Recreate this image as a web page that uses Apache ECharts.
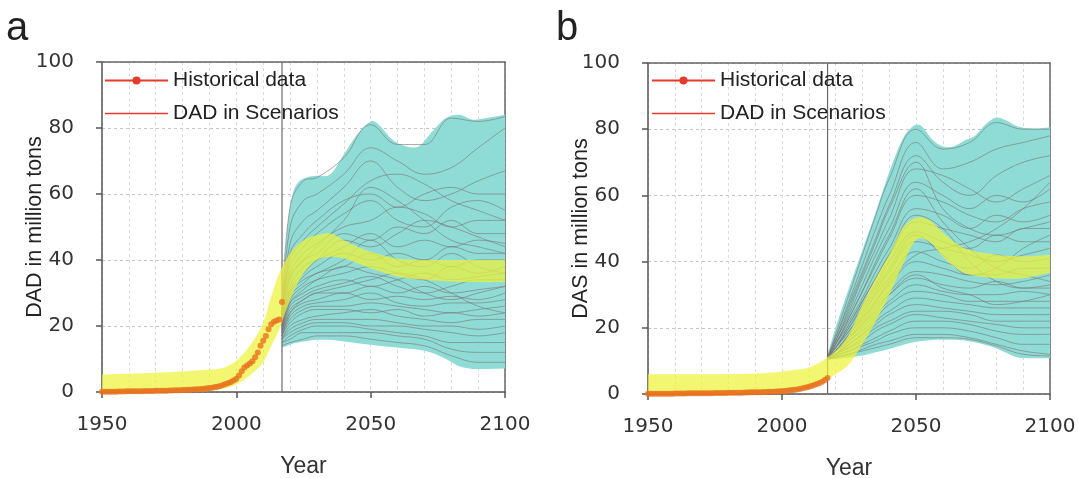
<!DOCTYPE html>
<html><head><meta charset="utf-8">
<script src="https://cdn.jsdelivr.net/npm/echarts@6/dist/echarts.min.js"></script>
<style>html,body{margin:0;padding:0;background:#fff}#c{width:1078px;height:478px}</style>
</head><body><div id="c"></div>
<script>
// ---------------- data ----------------
const histStartYear = 1950;
const projectionStartYear = 2017;

// Historical data (yearly, 1950..2017)
const histA = [0.1,0.1,0.1,0.1,0.1,0.1,0.15,0.15,0.15,0.2,
  0.2,0.2,0.2,0.25,0.25,0.25,0.3,0.3,0.3,0.3,
  0.35,0.35,0.4,0.4,0.4,0.45,0.45,0.5,0.5,0.55,
  0.6,0.6,0.65,0.7,0.75,0.8,0.85,0.9,1.0,1.1,
  1.2,1.3,1.5,1.6,1.8,2.1,2.4,2.7,3.0,3.5,
  4.0,5.0,6.3,7.4,8.0,8.6,9.3,10.5,12.0,14.0,
  15.5,17.0,19.0,20.5,21.3,21.7,22.0,27.3];
const histB = [0.1,0.1,0.1,0.1,0.1,0.1,0.1,0.1,0.1,0.1,
  0.15,0.15,0.15,0.15,0.15,0.2,0.2,0.2,0.2,0.2,
  0.2,0.25,0.25,0.25,0.25,0.3,0.3,0.3,0.3,0.3,
  0.35,0.35,0.35,0.4,0.4,0.4,0.45,0.45,0.5,0.5,
  0.5,0.55,0.55,0.6,0.6,0.65,0.7,0.7,0.75,0.8,
  0.85,0.9,1.0,1.1,1.2,1.3,1.4,1.6,1.8,2.0,
  2.2,2.4,2.7,3.0,3.3,3.7,4.2,4.8];

// Yellow band (panel a)
const yelYearsA = [1950,1960,1970,1980,1990,1995,2000,2005,2010,2013,2016,2020,2025,2030,2035,2040,2045,2050,2060,2070,2080,2090,2100];
const yelLowA   = [0,0,0,0,0.3,1,2.3,5,9,14,19,28,36,40,41,40.5,39,37.5,35,34,33.5,33.3,33.3];
const yelHighA  = [5.3,5.5,5.8,6.2,6.8,7.3,9.5,14,21,29,36,42,46,47.5,48,46,44,42.5,40.4,40,40,40,40];

// Yellow band (panel b)
const yelYearsB = [1950,1960,1970,1980,1990,1995,2000,2005,2010,2015,2020,2025,2030,2035,2040,2045,2050,2055,2060,2065,2070,2080,2090,2100];
const yelLowB   = [0,0,0,0,0.3,0.6,1,1.5,2.5,3.8,6,9,15,22,30,39,46.5,46,41.5,38,36,35,35,36.6];
const yelHighB  = [6,6,6,6,6.2,6.4,6.8,7.3,8,10,13,18,27,35,42,50,53.2,52.5,48.8,45.5,43.5,42.1,41.6,42.1];

// Scenario envelope (cyan), panel a
const envYearsA = [2017,2019,2021,2023,2026,2030,2035,2040,2045,2050,2053,2058,2063,2068,2073,2078,2083,2088,2093,2100];
const envLowA   = [13.5,14,14.6,15,15.4,15.8,15.8,15.3,14.8,14.3,14,13.6,13.2,12.8,11.8,10,7.8,7,7,7.1];
const envHighA  = [27,50,60,63.5,65,65.5,66,72,78,82,81,76.5,74.5,74.5,79,83,84,82.5,83,84];

// Scenario envelope (cyan), panel b
const envYearsB = [2017,2020,2025,2030,2035,2040,2045,2049,2052,2056,2060,2064,2068,2072,2076,2080,2084,2088,2094,2100];
const envLowB   = [10.5,10.6,11,11.6,12.6,13.6,14.8,15.6,16,16.3,16.4,16.4,16.2,15.6,14.8,13.8,12.3,11,10.8,10.8];
const envHighB  = [12,20,32,43.5,55,67,77,81,81,77,74.8,74.8,76.5,78,81.5,83.5,82.5,80.8,80.2,80.6];

// Scenario lines (gray), panel a
const scenYearsA = [2017,2020,2025,2030,2040,2050,2060,2070,2080,2090,2100];
const scenA = [
  [24,56,64,65,71,81,75,75,83,82,83.5],
  [23,50,58,60,66,74,70,66,68,74,80],
  [22,45,52,55,62,70,62,58,60,64,67],
  [22,42,48,52,58,60,56,60,62,60,60],
  [21,38,44,48,54,58,52,50,56,58,55],
  [21,36,42,45,50,52,56,54,50,52,52],
  [20,34,40,42,48,46,50,48,52,48,48],
  [20,32,38,40,44,48,44,46,44,46,45],
  [20,30,35,38,42,40,42,40,44,42,42],
  [19,29,33,36,38,42,38,40,38,40,40],
  [19,28,32,34,36,38,36,34,38,36,38],
  [19,27,30,32,34,32,34,36,34,35,36],
  [18,26,29,31,33,35,32,30,32,34,34],
  [18,25,28,30,30,32,30,32,30,31,32],
  [18,24,27,28,30,28,29,28,29,28,30],
  [17,23,26,27,28,30,27,26,27,27,28],
  [17,22,25,26,26,27,26,25,24,25,26],
  [17,21,24,25,25,24,25,23,24,23,24],
  [16,20,22,23,24,25,23,22,21,22,22],
  [16,19,21,22,22,22,21,20,20,19,20],
  [16,18,20,21,21,20,20,19,18,17,18],
  [15,17,19,20,20,19,18,17,15,15,15],
  [15,16,18,18,18,18,17,16,13,12,12],
  [14,15,16,17,17,16,15,14,11,9,9],
  [22,40,46,50,57,64,66,63,58,55,52],
  [21,35,40,44,52,62,58,52,46,44,42],
  [20,31,36,40,46,44,48,52,50,47,44],
  [19,30,34,36,40,46,40,38,42,38,36],
  [18,27,31,34,38,36,34,30,28,30,32],
  [17,24,28,30,32,34,36,34,30,26,24]
];

// Scenario lines (gray), panel b
const scenYearsB = [2017,2020,2025,2030,2035,2040,2050,2060,2070,2080,2090,2100];
const scenB = [
  [11,18,30,42,54,65,80,74,76,82,80,80],
  [11,17,28,39,50,60,76,68,70,74,76,78],
  [11,17,27,37,47,57,72,64,60,66,70,72],
  [11,16,25,35,44,53,68,66,62,58,62,66],
  [11,16,24,33,42,50,64,60,56,60,58,62],
  [11,15,23,31,39,47,60,58,54,52,56,58],
  [11,15,22,29,37,44,56,54,50,54,52,54],
  [11,15,21,28,35,42,52,50,48,46,50,50],
  [11,14,20,27,33,40,49,46,44,48,46,46],
  [11,14,19,25,31,37,46,44,42,40,42,44],
  [11,14,19,24,30,35,43,40,38,42,40,41],
  [10.5,13,18,23,28,33,40,38,36,36,38,38],
  [10.5,13,17,22,27,31,37,36,34,33,34,36],
  [10.5,13,17,21,26,30,35,33,32,34,32,33],
  [10.5,13,16,20,24,28,33,31,30,30,31,30],
  [10.5,12,16,19,23,27,31,30,28,28,28,28],
  [10.5,12,15,18,22,25,29,28,27,26,26,26],
  [10.5,12,15,18,21,24,27,26,25,24,24,24],
  [10.5,12,14,17,20,22,25,25,24,22,22,22],
  [10.5,12,14,16,19,21,24,23,22,21,20,20],
  [10.5,11.5,13,15,17,19,22,22,21,19,18,18],
  [10.5,11.5,13,14.5,16,18,20,20,19,17,15,15],
  [10.5,11,12,13.5,15,16,18,18,17,15,13,12],
  [10.5,11,12,13,14,15,17,17,16.5,14.5,12,11.5],
  [11,16,26,36,46,56,70,56,50,48,50,52],
  [11,15,23,31,40,48,62,52,44,38,36,34],
  [11,14,21,28,35,42,54,50,40,34,32,32],
  [11,14,20,26,32,38,48,42,36,38,44,48],
  [10.5,13,18,23,28,34,42,44,46,50,56,64],
  [10.5,13,17,21,25,30,36,32,30,27,28,30]
];

const yMin = 0, yMax = 100, yStep = 20;
const xMin = 1950, xMax = 2100, xStep = 50;
const legendNames = ['Historical data', 'DAD in Scenarios'];
const yNames = ['DAD in million tons', 'DAS in million tons'];
const panelLetters = ['a', 'b'];

// ---------------- styles ----------------
const CYAN = '#8edcd5', YELLOW = '#eef33a', ORANGE = '#e8721e', RED = '#e53a2c', GRAY = '#7d7777';
const SANS = 'Liberation Sans';

function pairs(xs, ys) { return xs.map((x, i) => [x, ys[i]]); }
function histPairs(vals) { return vals.map((v, i) => [histStartYear + i, v]); }

// smooth curve (cubic Hermite with Catmull-Rom tangents) through pixel points
function curve(pts) {
  const n = pts.length;
  const tan = pts.map((p, i) => {
    const a = pts[Math.max(i - 1, 0)], b = pts[Math.min(i + 1, n - 1)];
    return (b[1] - a[1]) / (b[0] - a[0]);
  });
  let d = '';
  for (let i = 0; i < n - 1; i++) {
    const p1 = pts[i], p2 = pts[i + 1], h = (p2[0] - p1[0]) / 3;
    d += ' C' + (p1[0] + h) + ',' + (p1[1] + tan[i] * h) + ' ' + (p2[0] - h) + ',' + (p2[1] - tan[i + 1] * h) + ' ' + p2[0] + ',' + p2[1];
  }
  return d;
}

function bandSeries(idx, xs, lo, hi, color, opacity, z) {
  return { type: 'custom', xAxisIndex: idx, yAxisIndex: idx, z: z, silent: true, clip: true,
    data: xs.map((x, i) => [x, lo[i], hi[i]]), encode: { x: 0, y: [1, 2] },
    renderItem: (params, api) => {
      if (params.dataIndex !== 0) return null;
      const top = xs.map((x, i) => api.coord([x, hi[i]]));
      const bot = xs.map((x, i) => api.coord([x, lo[i]])).reverse();
      const d = 'M' + top[0][0] + ',' + top[0][1] + curve(top) + ' L' + bot[0][0] + ',' + bot[0][1] + curve(bot) + ' Z';
      return { type: 'path', shape: { pathData: d }, style: { fill: color, opacity: opacity, stroke: null } };
    } };
}

function panelSeries(idx, hist, yelYears, yelLo, yelHi, envYears, envLo, envHi, scenYears, scen) {
  const s = [];
  s.push(bandSeries(idx, envYears, envLo, envHi, CYAN, 1, 1));
  s.push({ type: 'line', xAxisIndex: idx, yAxisIndex: idx, data: [[projectionStartYear, yMin], [projectionStartYear, yMax]],
    symbol: 'none', lineStyle: { color: '#6a6a6a', width: 1.2 }, z: 2, silent: true });
  scen.forEach(v => s.push({ type: 'line', xAxisIndex: idx, yAxisIndex: idx, data: pairs(scenYears, v),
    smooth: 0.4, symbol: 'none', lineStyle: { color: GRAY, width: 0.9, opacity: 0.7 }, z: 3, silent: true }));
  s.push(bandSeries(idx, yelYears, yelLo, yelHi, YELLOW, 0.72, 4));
  s.push({ type: 'scatter', xAxisIndex: idx, yAxisIndex: idx, data: histPairs(hist),
    symbolSize: 6, itemStyle: { color: ORANGE }, z: 6, silent: true });
  return s;
}

const series = [
  { name: legendNames[0], type: 'line', xAxisIndex: 0, yAxisIndex: 0, data: [], color: RED,
    symbol: 'circle', symbolSize: 8, lineStyle: { width: 3, color: RED }, itemStyle: { color: RED } },
  { name: legendNames[1], type: 'line', xAxisIndex: 0, yAxisIndex: 0, data: [], color: RED,
    symbol: 'none', lineStyle: { width: 1.2, color: RED }, itemStyle: { color: RED } },
  ...panelSeries(0, histA, yelYearsA, yelLowA, yelHighA, envYearsA, envLowA, envHighA, scenYearsA, scenA),
  ...panelSeries(1, histB, yelYearsB, yelLowB, yelHighB, envYearsB, envLowB, envHighB, scenYearsB, scenB)
];

function xAxis(idx) {
  return { gridIndex: idx, type: 'value', min: xMin, max: xMax, interval: xStep,
    axisLine: { show: true, onZero: false, lineStyle: { color: '#555', width: 1.5 } },
    axisTick: { show: true, length: 6, lineStyle: { color: '#555', width: 1.5 } },
    axisLabel: { fontSize: 20, fontFamily: 'DejaVu Sans', color: '#333', margin: 23, formatter: v => String(v) },
    splitLine: { show: true, lineStyle: { color: '#dadada', type: [3, 3], width: 1 } },
    minorTick: { show: false, splitNumber: 5 },
    minorSplitLine: { show: true, lineStyle: { color: '#dadada', type: [3, 3], width: 1 } },
    name: 'Year', nameLocation: 'middle', nameGap: 63, nameMoveOverlap: false,
    nameTextStyle: { fontSize: 23, fontFamily: SANS, color: '#333' } };
}
function frameX(idx) {
  return { gridIndex: idx, type: 'value', min: xMin, max: xMax, position: 'top',
    axisLine: { show: true, onZero: false, lineStyle: { color: '#666', width: 1.5 } },
    axisTick: { show: false }, axisLabel: { show: false }, splitLine: { show: false } };
}
function yAxis(idx) {
  return { gridIndex: idx, type: 'value', min: yMin, max: yMax, interval: yStep,
    axisLine: { show: true, onZero: false, lineStyle: { color: '#555', width: 1.5 } },
    axisTick: { show: true, length: 6, lineStyle: { color: '#555', width: 1.5 } },
    axisLabel: { fontSize: 20, fontFamily: 'DejaVu Sans', color: '#333', margin: 28 },
    splitLine: { show: true, lineStyle: { color: '#c4c4c4', type: [3, 3], width: 1 } },
    name: yNames[idx], nameLocation: 'middle', nameGap: 56, nameRotate: 90, nameMoveOverlap: false,
    nameTextStyle: { fontSize: 21.5, fontFamily: SANS, color: '#222' } };
}
function frameY(idx) {
  return { gridIndex: idx, type: 'value', min: yMin, max: yMax, position: 'right',
    axisLine: { show: true, onZero: false, lineStyle: { color: '#666', width: 1.5 } },
    axisTick: { show: false }, axisLabel: { show: false }, splitLine: { show: false } };
}
function legend(left) {
  return { data: [
      { name: legendNames[0] },
      { name: legendNames[1], icon: 'path://M0,0L63,0L63,1.3L0,1.3Z' }
    ], orient: 'vertical', left: left, top: 70,
    itemWidth: 63, itemHeight: 10, itemGap: 12, selectedMode: false, padding: 0,
    textStyle: { fontSize: 21, fontFamily: SANS, color: '#222', lineHeight: 21 } };
}

const chart = echarts.init(document.getElementById('c'), null, { renderer: 'canvas' });
chart.setOption({
  animation: false,
  backgroundColor: '#fff',
  title: [
    { text: panelLetters[0], left: 6, top: 9, padding: 0, textStyle: { fontSize: 40, fontWeight: 'normal', fontFamily: SANS, color: '#222' } },
    { text: panelLetters[1], left: 556, top: 9, padding: 0, textStyle: { fontSize: 40, fontWeight: 'normal', fontFamily: SANS, color: '#222' } }
  ],
  grid: [
    { left: 102, top: 62, width: 403, height: 330, outerBoundsMode: 'none', containLabel: false },
    { left: 648, top: 63, width: 402, height: 331, outerBoundsMode: 'none', containLabel: false }
  ],
  xAxis: [xAxis(0), xAxis(1), frameX(0), frameX(1)],
  yAxis: [yAxis(0), yAxis(1), frameY(0), frameY(1)],
  legend: [legend(104), legend(651)],
  series: series
});
</script>
</body></html>
